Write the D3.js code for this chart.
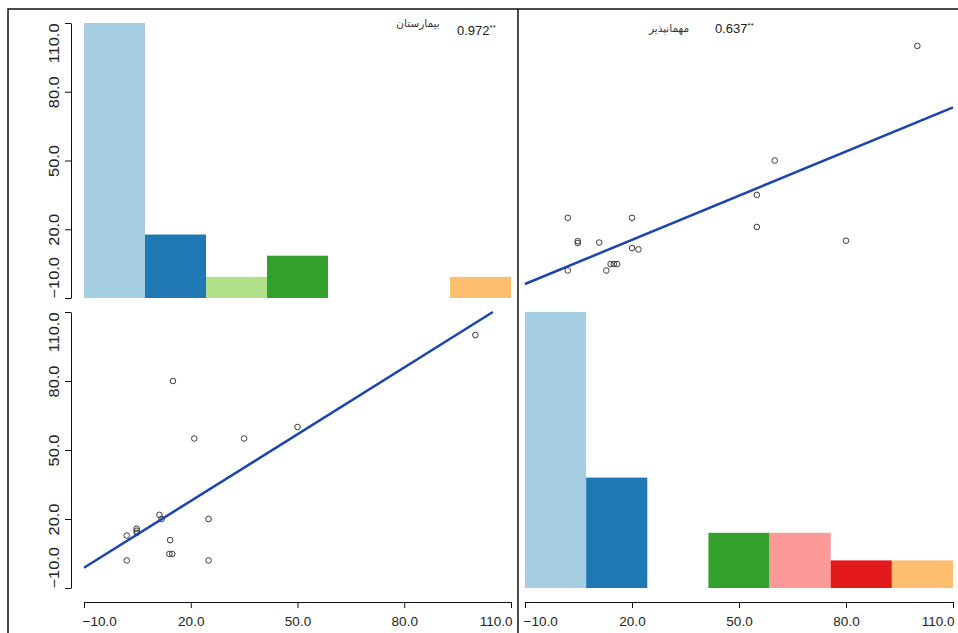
<!DOCTYPE html>
<html>
<head>
<meta charset="UTF-8">
<script src="https://cdn.jsdelivr.net/npm/d3@7"></script>
<style>
    body { margin: 0; background: #fff; }
    svg { display: block; }
    .axis path, .axis line { stroke: #111; stroke-width: 1; fill: none; }
    .axis text { font-family: "Liberation Sans", Arial, sans-serif; font-size: 13.5px; fill: #222; }
    .frame { stroke: #111; stroke-width: 1.5; fill: none; }
    .pt { fill: none; stroke: #3a3a3a; stroke-width: 1; }
    .fit { stroke: #1b44b0; stroke-width: 2.5; fill: none; }
</style>
</head>
<body>
<div id="chart"></div>
<script>
// tick values shared by every axis
const tickValues = [-10, 20, 50, 80, 110];

// histogram bin edges (7 equal bins over the axis range)
const binEdges = [-10, 7.14, 24.29, 41.43, 58.57, 75.71, 92.86, 110];
const hospitalCounts = [13, 3, 1, 2, 0, 0, 1];
const guestCounts = [10, 4, 0, 2, 2, 1, 1];

// paired observations
const hospital = [100, 15, 21, 35, 50, 11.2, 11.8, 25, 2, 4.8, 4.8, 4.8, 14.2, 14, 14.8, 2, 25];
const guest    = [100, 80, 55, 55, 60, 21.8, 20, 20, 12.8, 14, 14.9, 15.8, 10.8, 4.8, 4.8, 2, 2];

// fitted line end points
const fitLowerX = [-10, 104.9], fitLowerY = [-1.2, 110];   // x = hospital, y = guest
const fitUpperX = [-10, 110],   fitUpperY = [-3.9, 73.2];  // x = guest, y = hospital

// correlation labels
const corrNames = ["بیمارستان", "مهمانپذیر"];
const corrValues = ["0.972", "0.637"];

const width = 958, height = 633;
const svg = d3.select("#chart").append("svg")
    .attr("width", width)
    .attr("height", height);

// scales for the two columns and two rows
const xLeft = d3.scaleLinear().domain([-10, 110]).range([84, 511]);
const xRight = d3.scaleLinear().domain([-10, 110]).range([525, 953]);
const yTop = d3.scaleLinear().domain([-10, 110]).range([298, 23]);
const yBottom = d3.scaleLinear().domain([-10, 110]).range([588, 312]);

const fmt = d3.format(".1f");
const colors = d3.schemePaired.slice(0, 7);
const last = tickValues.length - 1;

// frame lines
svg.append("path").attr("class", "frame").attr("d", "M8,633V9H958");
svg.append("path").attr("class", "frame").attr("d", "M518,9V633");

// histogram helper
function hist(counts, xs, ys) {
    const h = d3.scaleLinear().domain([0, d3.max(counts)]).range([ys(-10), ys(110)]);
    svg.append("g").selectAll("rect")
        .data(counts)
        .join("rect")
        .attr("x", (d, i) => xs(binEdges[i]))
        .attr("width", (d, i) => xs(binEdges[i + 1]) - xs(binEdges[i]))
        .attr("y", d => h(d))
        .attr("height", d => h(0) - h(d))
        .attr("fill", (d, i) => colors[i]);
}

// scatter helper
function scatter(xv, yv, xs, ys, fx, fy) {
    const g = svg.append("g");
    g.selectAll("circle")
        .data(xv)
        .join("circle")
        .attr("class", "pt")
        .attr("cx", d => xs(d))
        .attr("cy", (d, i) => ys(yv[i]))
        .attr("r", 2.8);
    const line = d3.line().x(d => xs(d[0])).y(d => ys(d[1]));
    g.append("path").attr("class", "fit")
        .attr("d", line(fx.map((d, i) => [d, fy[i]])));
}

hist(hospitalCounts, xLeft, yTop);
hist(guestCounts, xRight, yBottom);
scatter(guest, hospital, xRight, yTop, fitUpperX, fitUpperY);
scatter(hospital, guest, xLeft, yBottom, fitLowerX, fitLowerY);

// left y axes with rotated labels, end labels kept inside the panel
function yAxis(ys) {
    const g = svg.append("g")
        .attr("class", "axis")
        .attr("transform", "translate(71,0)")
        .call(d3.axisLeft(ys).tickValues(tickValues).tickFormat(fmt).tickSize(6).tickSizeOuter(0));
    g.selectAll("text")
        .attr("transform", "rotate(-90) scale(1.17,1)")
        .attr("x", 0)
        .attr("y", -17)
        .attr("dy", "0.35em")
        .style("font-size", "14px")
        .attr("text-anchor", (d, i) => i === 0 ? "start" : i === last ? "end" : "middle");
}
yAxis(yTop);
yAxis(yBottom);

// bottom x axes
function xAxis(xs) {
    const g = svg.append("g")
        .attr("class", "axis")
        .attr("transform", "translate(0,602)")
        .call(d3.axisBottom(xs).tickValues(tickValues).tickFormat(fmt).tickSize(6).tickSizeOuter(0));
    g.selectAll("text")
        .attr("y", 14)
        .attr("x", (d, i) => i === 0 ? -2 : i === last ? 1 : 0)
        .attr("text-anchor", (d, i) => i === 0 ? "start" : i === last ? "end" : "middle");
}
xAxis(xLeft);
xAxis(xRight);

// correlation text in the top panels
const nameX = [418, 669], nameY = [23, 28];
const valX = [457, 715], valY = [35, 33];
corrNames.forEach((name, i) => {
    svg.append("text")
        .attr("x", nameX[i])
        .attr("y", nameY[i])
        .attr("dy", "0.35em")
        .attr("text-anchor", "middle")
        .style("font-family", "'DejaVu Sans', sans-serif")
        .style("font-size", "10.5px")
        .style("fill", "#333")
        .text(name);
    const t = svg.append("text")
        .attr("x", valX[i])
        .attr("y", valY[i])
        .style("font-family", "'Liberation Sans', Arial, sans-serif")
        .style("font-size", "13px")
        .style("fill", "#222")
        .text(corrValues[i]);
    t.append("tspan")
        .attr("dy", -5)
        .style("font-size", "8px")
        .text("**");
});
</script>
</body>
</html>
